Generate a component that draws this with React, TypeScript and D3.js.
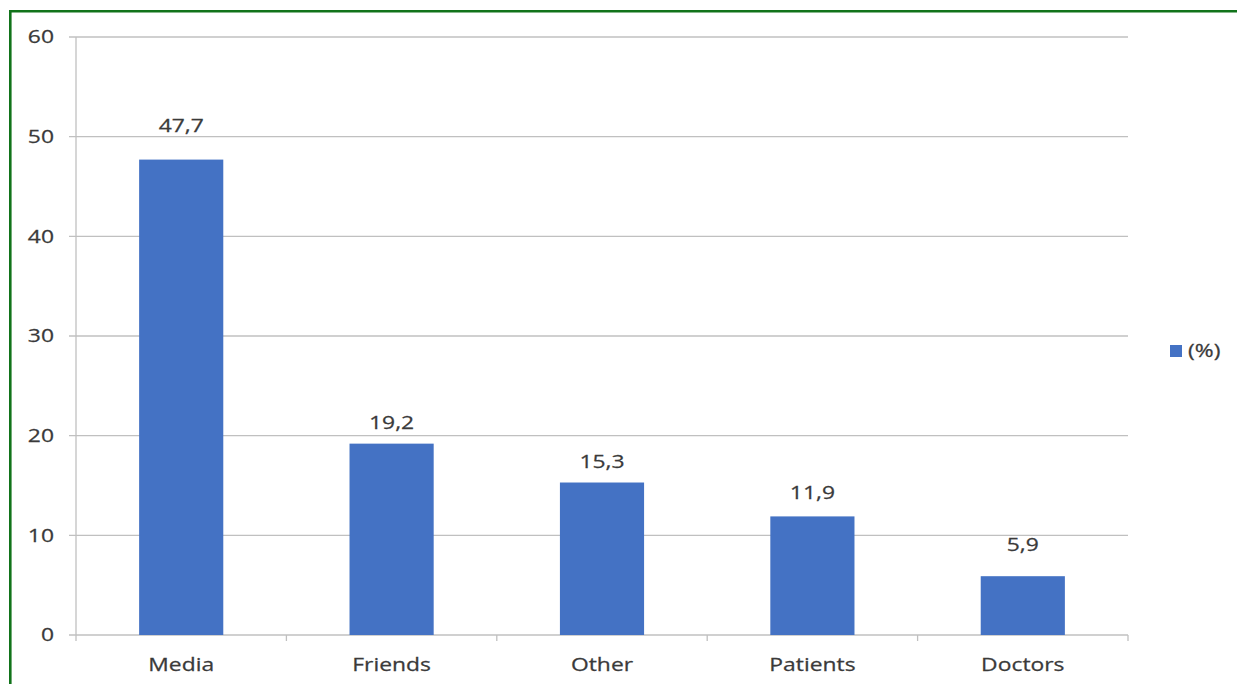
import React from "react";
import * as d3 from "d3";

const categories: string[] = ["Media", "Friends", "Other", "Patients", "Doctors"];
const values: number[] = [47.7, 19.2, 15.3, 11.9, 5.9];
const yTicks: number[] = [0, 10, 20, 30, 40, 50, 60];
const seriesName = "(%)";

// layout: pixel gap between each bar top and its value label baseline
const labelGaps: number[] = [28, 15, 15, 17, 25];

const W = 1237;
const H = 684;
const left = 76;
const right = 1128;
const top = 37;
const bottom = 635;
const font = "'Open Sans', sans-serif";
const textColor = "#3a3a3a";
const barColor = "#4472C4";
const SX = 1.27;

function T(props: { x: number; y: number; anchor?: string; dy?: string; children: React.ReactNode }) {
  return (
    <text
      transform={`translate(${props.x},${props.y}) scale(${SX},1)`}
      dy={props.dy}
      textAnchor={props.anchor || "start"}
      fontFamily={font}
      fontSize={18}
      fill={textColor}
      stroke={textColor}
      strokeWidth={0.25}
    >
      {props.children}
    </text>
  );
}

export default function App() {
  const x = d3.scaleBand<string>().domain(categories).range([left, right]).padding(0);
  const y = d3.scaleLinear().domain([0, 60]).range([bottom, top]);
  const bw = x.bandwidth() * 0.4;
  const fmt = (v: number) => v.toFixed(1).replace(".", ",");
  const boundaries = d3.range(categories.length + 1).map((i) => left + i * x.step());

  return (
    <svg width={W} height={H} style={{ position: "absolute", left: 0, top: 0, background: "#fff" }}>
      <rect x={0} y={0} width={W} height={H} fill="#fff" />
      {/* green frame */}
      <line x1={10} y1={11.3} x2={W} y2={11.3} stroke="#11731a" strokeWidth={2.6} />
      <line x1={10.3} y1={10} x2={10.3} y2={H} stroke="#11731a" strokeWidth={2.6} />
      {/* gridlines */}
      {yTicks.map((t) => (
        <g key={t}>
          <line x1={69} x2={right} y1={y(t)} y2={y(t)} stroke="#c0c0c0" strokeWidth={1.3} />
          <T x={54} y={y(t)} dy="0.35em" anchor="end">
            {t}
          </T>
        </g>
      ))}
      {/* y axis */}
      <line x1={left} x2={left} y1={top} y2={bottom} stroke="#c0c0c0" strokeWidth={1.3} />
      {/* x tick marks */}
      {boundaries.map((b, i) => (
        <line key={i} x1={b} x2={b} y1={bottom} y2={bottom + 6} stroke="#c0c0c0" strokeWidth={1.3} />
      ))}
      {/* bars */}
      {categories.map((c, i) => {
        const cx = (x(c) as number) + x.bandwidth() / 2;
        return (
          <g key={c}>
            <rect x={cx - bw / 2} y={y(values[i])} width={bw} height={bottom - y(values[i])} fill={barColor} />
            <T x={cx} y={y(values[i]) - labelGaps[i]} anchor="middle">
              {fmt(values[i])}
            </T>
            <T x={cx} y={671} anchor="middle">
              {c}
            </T>
          </g>
        );
      })}
      {/* legend */}
      <rect x={1170} y={345} width={12} height={12} fill={barColor} />
      <T x={1188} y={351} dy="0.35em">
        {seriesName}
      </T>
    </svg>
  );
}
